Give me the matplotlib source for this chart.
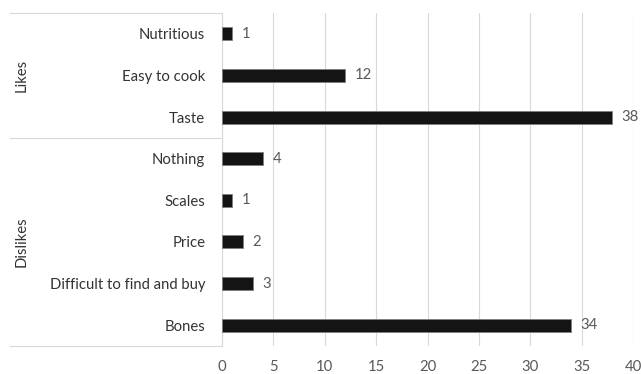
import numpy as np
import matplotlib.pyplot as plt
from matplotlib.transforms import blended_transform_factory

plt.rcParams['font.family'] = ['Lato', 'DejaVu Sans']

# answers listed top to bottom
likes = ['Nutritious', 'Easy to cook', 'Taste']
likes_counts = [1, 12, 38]
dislikes = ['Nothing', 'Scales', 'Price', 'Difficult to find and buy', 'Bones']
dislikes_counts = [4, 1, 2, 3, 34]
groups = ['Likes', 'Dislikes']
x_ticks = [0, 5, 10, 15, 20, 25, 30, 35, 40]

labels = likes + dislikes
counts = likes_counts + dislikes_counts
n = len(labels)
y = np.arange(n)
fs = 10.7

W, H = 641, 374
fig = plt.figure(figsize=(W / 100, H / 100), dpi=100)
ax = fig.add_axes([222 / W, 1 - 346 / H, (633 - 222) / W, (346 - 13) / H])

ax.barh(y, counts, height=0.31, color='#141414', edgecolor='#7f7f7f', linewidth=0.6, zorder=3)
for yi, c in zip(y, counts):
    ax.text(c + 0.9, yi, str(c), va='center', ha='left', fontsize=fs,
            color='#595959', clip_on=False)

ax.set_xlim(0, 40)
ax.set_ylim(n - 0.5, -0.5)
ax.set_xticks(x_ticks)
ax.set_yticks(y)
ax.set_yticklabels(labels, fontsize=fs, color='#333333')
ax.tick_params(axis='y', length=0, pad=12)
ax.tick_params(axis='x', length=0, pad=10, labelsize=fs, labelcolor='#595959')
ax.grid(axis='x', color='#d9d9d9', linewidth=0.8, zorder=0)
for s in ['top', 'right', 'bottom']:
    ax.spines[s].set_visible(False)
ax.spines['left'].set_color('#d9d9d9')
ax.spines['left'].set_linewidth(0.8)

# group frame lines and labels left of the axis
tr = blended_transform_factory(fig.transFigure, ax.transData)
x0 = 10 / W
x1 = 222 / W
for yb in [-0.5, len(likes) - 0.5, n - 0.5]:
    ax.plot([x0, x1], [yb, yb], color='#d9d9d9', linewidth=0.8,
            transform=tr, clip_on=False)
ax.text(22 / W, (len(likes) - 1) / 2, groups[0], rotation=90, transform=tr,
        ha='center', va='center', fontsize=fs, color='#333333')
ax.text(22 / W, len(likes) + (len(dislikes) - 1) / 2, groups[1], rotation=90,
        transform=tr, ha='center', va='center', fontsize=fs, color='#333333')

fig.savefig('out.png', dpi=100)
